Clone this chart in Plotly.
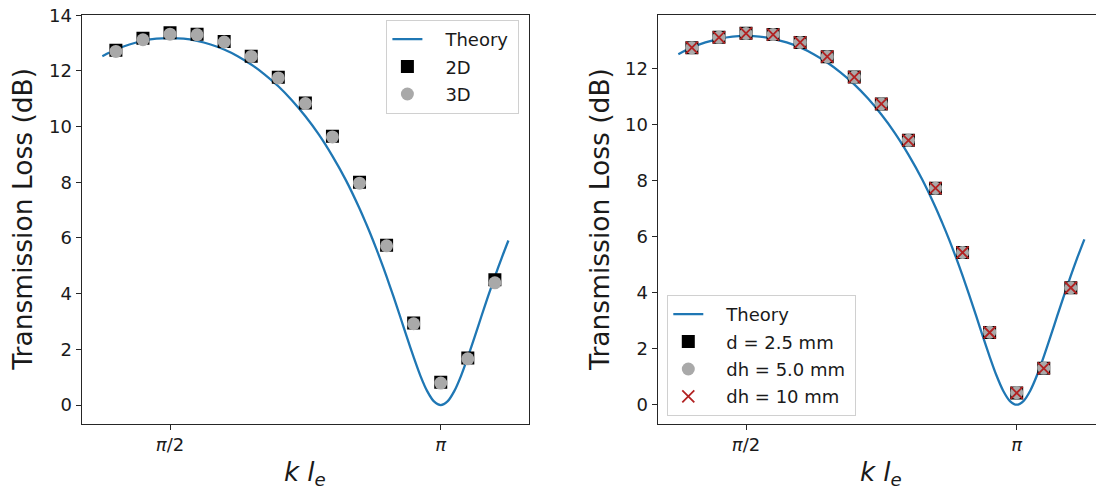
import numpy as np
import plotly.graph_objects as go

# ---- data (x values given as fractions of pi) ----
theory_t = [0.375, 0.400, 0.425, 0.450, 0.475, 0.500, 0.525, 0.550, 0.575, 0.600,
            0.625, 0.650, 0.675, 0.700, 0.725, 0.750, 0.775, 0.800, 0.825, 0.850,
            0.8625, 0.875, 0.8875, 0.900, 0.9125, 0.925, 0.9375, 0.950, 0.9625, 0.975,
            0.9875, 1.000, 1.0125, 1.025, 1.0375, 1.050, 1.0625, 1.075, 1.0875, 1.100,
            1.1125, 1.125]
theory_tl = [12.53, 12.77, 12.95, 13.08, 13.16, 13.18, 13.16, 13.08, 12.95, 12.77,
             12.53, 12.23, 11.87, 11.45, 10.95, 10.37, 9.71, 8.94, 8.07, 7.06,
             6.50, 5.91, 5.28, 4.61, 3.91, 3.18, 2.44, 1.72, 1.05, 0.50,
             0.13, 0.00, 0.13, 0.50, 1.05, 1.72, 2.44, 3.18, 3.91, 4.61,
             5.28, 5.91]

points_t = [0.40, 0.45, 0.50, 0.55, 0.60, 0.65, 0.70, 0.75, 0.80, 0.85,
            0.90, 0.95, 1.00, 1.05, 1.10]

tl_2d = [12.74, 13.17, 13.37, 13.32, 13.06, 12.53, 11.77, 10.85, 9.65, 8.00,
         5.74, 2.95, 0.82, 1.69, 4.50]
tl_3d = [12.70, 13.12, 13.32, 13.30, 13.04, 12.52, 11.75, 10.83, 9.63, 7.97,
         5.72, 2.92, 0.79, 1.66, 4.39]

tl_d25 = [12.76, 13.13, 13.28, 13.23, 12.95, 12.44, 11.71, 10.75, 9.45, 7.74,
          5.44, 2.58, 0.42, 1.30, 4.18]
tl_dh50 = [12.76, 13.13, 13.27, 13.23, 12.95, 12.44, 11.71, 10.75, 9.45, 7.74,
           5.44, 2.59, 0.43, 1.31, 4.18]
tl_dh10 = [12.76, 13.13, 13.27, 13.23, 12.95, 12.44, 11.71, 10.75, 9.45, 7.74,
           5.44, 2.58, 0.42, 1.30, 4.18]

xtick_vals_t = [0.5, 1.0]
xtick_text = ["<i>π</i>/2", "<i>π</i>"]
left_names = ["Theory", "2D", "3D"]
right_names = ["Theory", "d = 2.5 mm", "dh = 5.0 mm", "dh = 10 mm"]
ylabel = "Transmission Loss (dB)"
xlabel = "<i>k l</i><sub><i>e</i></sub>"

theory_x = np.pi * np.array(theory_t)
points_x = np.pi * np.array(points_t)
xtick_vals = list(np.pi * np.array(xtick_vals_t))

FONT = "DejaVu Sans"
BLUE = "#1f77b4"
GRAY = "#a9a9a9"
RED = "#b22222"
SPINE = "#262626"
TXT = "#1a1a1a"
PAD = "\u2002\u2002"   # extra gap between legend symbol and text (matplotlib-like)
TAIL = "\u2005"        # a little right padding inside the legend box


def lname(s):
    return PAD + s + TAIL


fig = go.Figure()

# ---- left panel ----
fig.add_trace(go.Scatter(x=theory_x, y=theory_tl, mode="lines", name=lname(left_names[0]),
                         line=dict(color=BLUE, width=2.3, shape="spline", smoothing=0.8),
                         xaxis="x", yaxis="y", legend="legend", legendgroup="a1"))
fig.add_trace(go.Scatter(x=points_x, y=tl_2d, mode="markers", name=lname(left_names[1]),
                         marker=dict(symbol="square", size=13, color="black"),
                         xaxis="x", yaxis="y", legend="legend", legendgroup="a2"))
fig.add_trace(go.Scatter(x=points_x, y=tl_3d, mode="markers", name=lname(left_names[2]),
                         marker=dict(symbol="circle", size=13, color=GRAY),
                         xaxis="x", yaxis="y", legend="legend", legendgroup="a3"))

# ---- right panel ----
fig.add_trace(go.Scatter(x=theory_x, y=theory_tl, mode="lines", name=lname(right_names[0]),
                         line=dict(color=BLUE, width=2.3, shape="spline", smoothing=0.8),
                         xaxis="x2", yaxis="y2", legend="legend2", legendgroup="b1"))
fig.add_trace(go.Scatter(x=points_x, y=tl_d25, mode="markers", name=lname(right_names[1]),
                         marker=dict(symbol="square", size=13, color="black"),
                         xaxis="x2", yaxis="y2", legend="legend2", legendgroup="b2"))
fig.add_trace(go.Scatter(x=points_x, y=tl_dh50, mode="markers", name=lname(right_names[2]),
                         marker=dict(symbol="circle", size=13, color=GRAY),
                         xaxis="x2", yaxis="y2", legend="legend2", legendgroup="b3"))
fig.add_trace(go.Scatter(x=points_x, y=tl_dh10, mode="markers", name=lname(right_names[3]),
                         marker=dict(symbol="x-thin", size=12, color=RED,
                                     line=dict(color=RED, width=1.8)),
                         xaxis="x2", yaxis="y2", legend="legend2", legendgroup="b4"))

W, H = 1096, 491
left_dom = [81.7 / W, 528.7 / W]
right_dom = [657.7 / W, 1.0]
ydom = [(H - 423.7) / H, (H - 14.7) / H]

axis_common = dict(showline=True, linecolor=SPINE, linewidth=1.2,
                   ticks="outside", ticklen=5, tickwidth=1.2, tickcolor=SPINE,
                   showgrid=False, zeroline=False, automargin=False,
                   tickfont=dict(family=FONT, size=18, color=TXT))

legend_common = dict(bgcolor="rgba(255,255,255,0.8)", bordercolor="#d0d0d0", borderwidth=1,
                     font=dict(family=FONT, size=18, color=TXT),
                     traceorder="grouped", tracegroupgap=1)

fig.update_layout(
    width=W, height=H,
    margin=dict(l=0, r=0, t=0, b=0, autoexpand=False),
    paper_bgcolor="white", plot_bgcolor="white",
    font=dict(family=FONT),
    xaxis=dict(domain=left_dom, range=[1.0583, 3.652], tickvals=xtick_vals, ticktext=xtick_text,
               mirror=True, anchor="y", **axis_common),
    yaxis=dict(domain=ydom, range=[-0.67, 14.02], tickvals=[0, 2, 4, 6, 8, 10, 12, 14],
               mirror=True, anchor="x", **axis_common),
    xaxis2=dict(domain=right_dom, range=[1.0583, 3.6018], tickvals=xtick_vals, ticktext=xtick_text,
                mirror=True, anchor="y2", **axis_common),
    yaxis2=dict(domain=ydom, range=[-0.68, 13.94], tickvals=[0, 2, 4, 6, 8, 10, 12],
                mirror=False, anchor="x2", **axis_common),
    legend=dict(x=386.4 / W, y=(H - 20) / H, xanchor="left", yanchor="top", **legend_common),
    legend2=dict(x=667.3 / W, y=(H - 416) / H, xanchor="left", yanchor="bottom", **legend_common),
    showlegend=True,
)

# axis titles (placed like matplotlib's labels)
ymid = (H - 219.2) / H
for xc in (22.5 / W, 598.7 / W):
    fig.add_annotation(text=ylabel, xref="paper", yref="paper", x=xc, y=ymid,
                       xanchor="center", yanchor="middle", textangle=-90, showarrow=False,
                       font=dict(family=FONT, size=26.5, color=TXT))
for xc in ((81.7 + 528.7) / 2 / W, (657.7 + 1104.7) / 2 / W):
    fig.add_annotation(text=xlabel, xref="paper", yref="paper", x=xc, y=(H - 473) / H,
                       xanchor="center", yanchor="middle", showarrow=False,
                       font=dict(family=FONT, size=26, color=TXT))

fig.write_html("out.html", config={"displayModeBar": False},
               post_script="document.body.style.margin='0px';document.body.style.overflow='hidden';")
